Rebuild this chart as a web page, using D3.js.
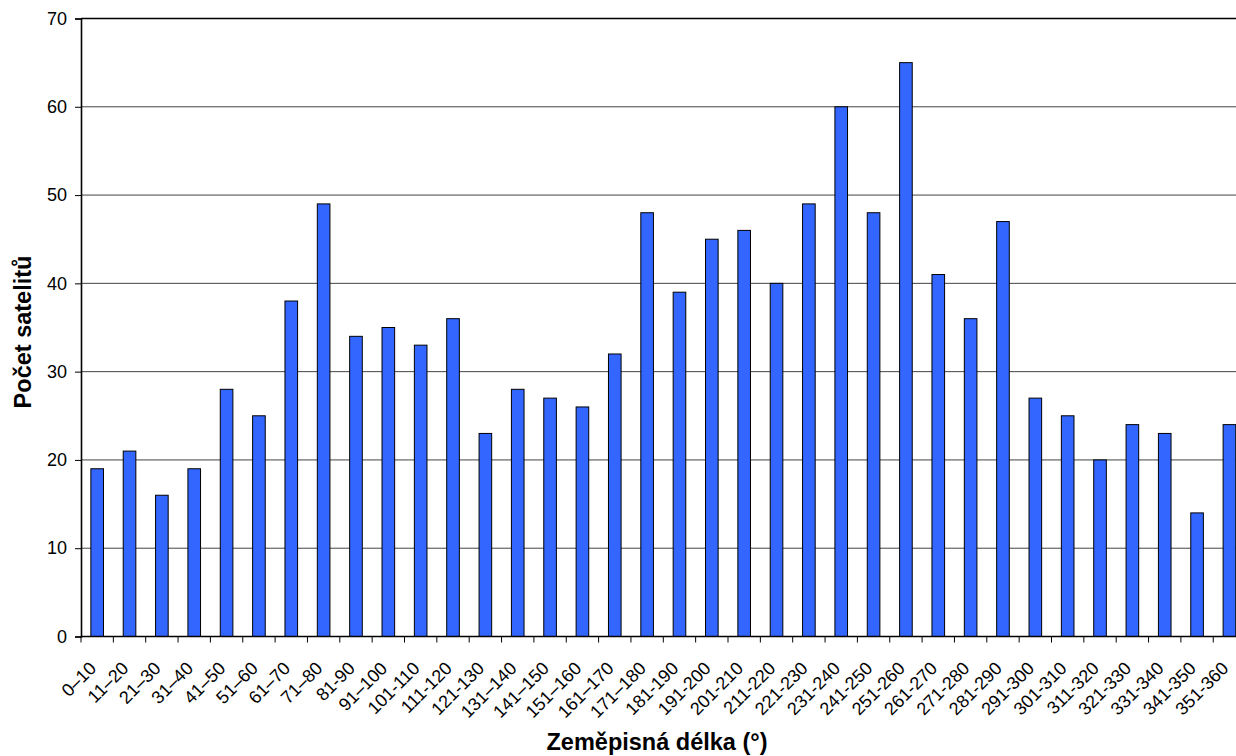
<!DOCTYPE html>
<html>
<head>
<meta charset="utf-8">
<script src="https://cdn.jsdelivr.net/npm/d3@7"></script>
<style>
  html, body { margin: 0; padding: 0; background: #fff; }
  svg { display: block; }
  text { font-family: "Liberation Sans", Arial, sans-serif; fill: #000; }
</style>
</head>
<body>
<svg id="chart" width="1236" height="756"></svg>
<script>
const categories = ["0–10","11–20","21–30","31–40","41–50","51–60","61–70","71–80","81-90","91–100",
  "101-110","111-120","121-130","131–140","141–150","151–160","161–170","171–180","181-190","191-200",
  "201-210","211-220","221-230","231-240","241-250","251-260","261-270","271-280","281-290","291-300",
  "301-310","311-320","321-330","331-340","341-350","351-360"];
const values = [19,21,16,19,28,25,38,49,34,35,33,36,23,28,27,26,32,48,39,45,46,40,49,60,48,65,41,36,47,27,25,20,24,23,14,24];
const yTicks = [0,10,20,30,40,50,60,70];
const xTitle = "Zeměpisná délka (°)";
const yTitle = "Počet satelitů";

(function () {
const svg = d3.select("#chart");
const pLeft = 81, pTop = 18.5, pBottom = 636.5, step = 32.35;
const pRight = pLeft + step * categories.length;

const x = d3.scaleBand().domain(categories).range([pLeft, pRight]).paddingInner(0.61).paddingOuter(0.305);
const y = d3.scaleLinear().domain([0, 70]).range([pBottom, pTop]);

// gridlines
svg.append("g").selectAll("line").data(yTicks.filter(t => t > 0)).join("line")
  .attr("x1", pLeft).attr("x2", pRight)
  .attr("y1", d => y(d)).attr("y2", d => y(d))
  .attr("stroke", d => d === 70 ? "#000" : "#444")
  .attr("stroke-width", d => d === 70 ? 1.6 : 1);

// bars
svg.append("g").selectAll("rect").data(values).join("rect")
  .attr("x", (d, i) => x(categories[i]))
  .attr("y", d => y(d))
  .attr("width", x.bandwidth())
  .attr("height", d => y(0) - y(d))
  .attr("fill", "#3366FF")
  .attr("stroke", "#000")
  .attr("stroke-width", 1);

// y axis
const yAxis = d3.axisLeft(y).tickValues(yTicks).tickSize(6).tickPadding(8).tickFormat(d3.format("d"));
const gy = svg.append("g").attr("transform", `translate(${pLeft},0)`).call(yAxis);
gy.select(".domain").attr("stroke", "#000").attr("stroke-width", 1.6);
gy.selectAll(".tick line").attr("stroke", "#000");
gy.selectAll(".tick text").style("font-size", "18px").style("font-family", "'Liberation Sans', Arial, sans-serif");

// x axis line
svg.append("line").attr("x1", pLeft).attr("x2", pRight).attr("y1", pBottom).attr("y2", pBottom)
  .attr("stroke", "#000").attr("stroke-width", 1.6);

// x ticks at category boundaries
const bounds = d3.range(categories.length + 1).map(i => pLeft + i * x.step());
svg.append("g").selectAll("line").data(bounds).join("line")
  .attr("x1", d => d).attr("x2", d => d)
  .attr("y1", pBottom).attr("y2", pBottom + 6)
  .attr("stroke", "#000");

// x labels rotated
svg.append("g").selectAll("text").data(categories).join("text")
  .attr("transform", d => `translate(${x(d) + x.bandwidth() / 2 - 9},${pBottom + 24}) rotate(-45)`)
  .attr("text-anchor", "end")
  .attr("dy", "0.71em")
  .style("font-size", "18px")
  .text(d => d);

// titles
svg.append("text")
  .attr("x", 657).attr("y", 750)
  .attr("text-anchor", "middle")
  .style("font-size", "23.5px").style("font-weight", "bold")
  .text(xTitle);

svg.append("text")
  .attr("transform", `translate(31,332) rotate(-90)`)
  .attr("text-anchor", "middle")
  .style("font-size", "23.5px").style("font-weight", "bold")
  .text(yTitle);
})();
</script>
</body>
</html>
